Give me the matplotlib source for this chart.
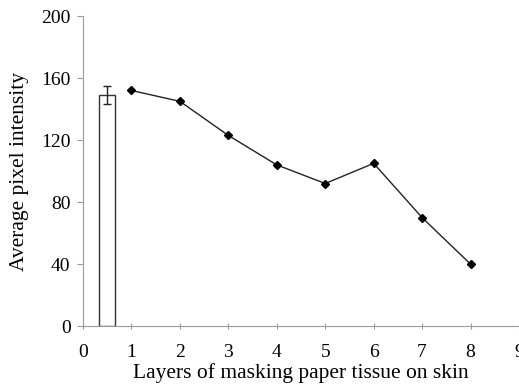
import numpy as np
from matplotlib import pyplot as plt

plt.rcParams['font.family'] = ['Liberation Serif', 'DejaVu Serif']

# Control bar (bare skin)
bar_x = [0.5]
bar_height = [149]
bar_err = [6]

# Layers of masking paper
layers = [1, 2, 3, 4, 5, 6, 7, 8]
intensity = [152, 145, 123, 104, 92, 105, 70, 40]

fig = plt.figure(figsize=(5.19, 3.92), dpi=100)
ax = fig.add_axes([0.16, 0.168, 0.84, 0.791])

ax.bar(bar_x, bar_height, width=0.34, color='white', edgecolor='#333333',
       linewidth=1.0, yerr=bar_err, capsize=3,
       error_kw=dict(ecolor='#222222', elinewidth=1.0, capthick=1.0))
ax.plot(layers, intensity, color='#222222', linewidth=1.0, marker='D',
        markersize=4, markerfacecolor='black', markeredgecolor='black')

ax.set_xlim(0, 9)
ax.set_ylim(0, 200)
ax.set_xticks(range(0, 10))
ax.set_yticks(range(0, 201, 40))

for s in ['top', 'right']:
    ax.spines[s].set_visible(False)
for s in ['left', 'bottom']:
    ax.spines[s].set_color('#999999')
    ax.spines[s].set_linewidth(0.8)
ax.spines['bottom'].set_clip_on(False)

ax.tick_params(axis='x', direction='inout', length=5, color='#999999',
               labelsize=14, pad=10)
ax.tick_params(axis='y', direction='out', length=4, color='#999999',
               labelsize=14, pad=5)

ax.set_xlabel('Layers of masking paper tissue on skin', fontsize=15.5,
              labelpad=2)
ax.set_ylabel('Average pixel intensity', fontsize=15.5, labelpad=9)

fig.savefig('out.png', dpi=100)
